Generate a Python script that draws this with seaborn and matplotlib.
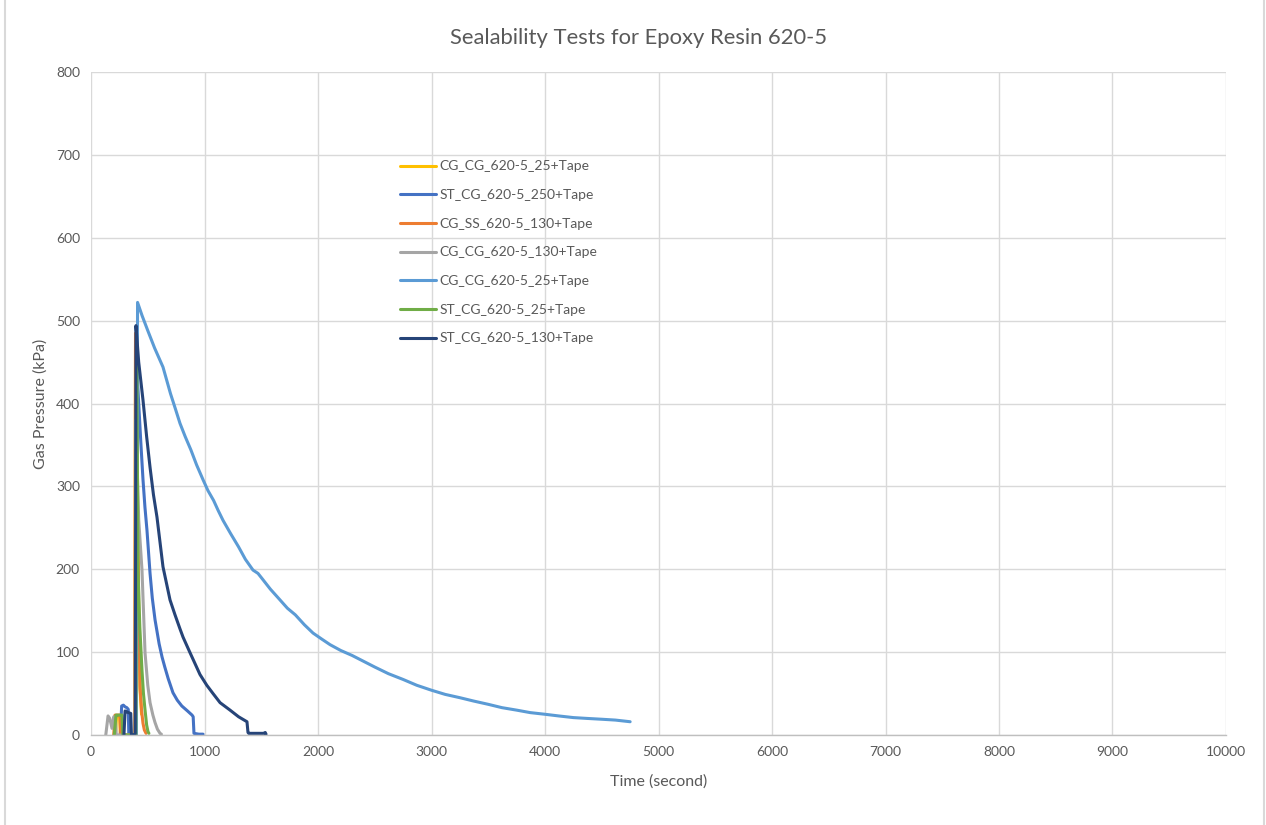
import matplotlib
matplotlib.use("Agg")
import matplotlib.pyplot as plt
import seaborn as sns
import pandas as pd

# ---- data ----
series_names = [
    "CG_CG_620-5_25+Tape",
    "ST_CG_620-5_250+Tape",
    "CG_SS_620-5_130+Tape",
    "CG_CG_620-5_130+Tape",
    "CG_CG_620-5_25+Tape",
    "ST_CG_620-5_25+Tape",
    "ST_CG_620-5_130+Tape",
]
series_colors = ["#FFC000", "#4472C4", "#ED7D31", "#A5A5A5", "#5B9BD5", "#70AD47", "#264478"]

yellow_t = [215, 225, 240, 252, 258, 385, 392, 400, 410, 420, 432, 445]
yellow_p = [0, 23, 23, 23, 0, 0, 470, 390, 270, 140, 55, 25]

medblue_t = [258, 270, 285, 300, 315, 328, 333, 398, 405, 420, 440, 458, 475, 493, 520, 540, 564, 600, 626, 650,
             680, 722, 760, 800, 850, 890, 900, 907, 950, 987]
medblue_p = [0, 35, 36, 34, 33, 31, 0, 0, 440, 400, 350, 308, 275, 247, 195, 165, 139, 110, 94, 82,
             68, 51, 42, 35, 29, 24, 22, 2, 1, 1]

orange_t = [200, 211, 225, 240, 255, 262, 385, 392, 400, 410, 420, 432, 445, 458, 470, 485]
orange_p = [0, 24, 24, 24, 24, 0, 0, 485, 400, 280, 150, 58, 30, 14, 6, 2]

gray_t = [130, 150, 165, 185, 200, 215, 222, 388, 394, 405, 420, 449, 476, 500, 520, 545, 564, 585, 608, 620]
gray_p = [0, 23, 20, 8, 22, 20, 0, 0, 380, 330, 260, 199, 99, 60, 39, 24, 15, 7, 2, 1]

lightblue_t = [400, 410, 450, 500, 560, 634, 700, 740, 784, 830, 880, 930, 987, 1030, 1080, 1120, 1163, 1230,
               1300, 1360, 1427, 1471, 1500, 1580, 1665, 1730, 1800, 1880, 1956, 2030,
               2106, 2200, 2300, 2400, 2500, 2620, 2750, 2870, 3000, 3120, 3250, 3370, 3500, 3620, 3750,
               3870, 4000, 4120, 4250, 4370, 4500, 4620, 4750]
lightblue_p = [0, 522, 506, 488, 467, 444, 412, 395, 376, 360, 344, 326, 308, 295, 283, 271, 259, 243,
               227, 212, 199, 195, 190, 176, 163, 153, 145, 133, 123, 116,
               109, 102, 96, 89, 82, 74, 67, 60, 54, 49, 45, 41, 37, 33, 30,
               27, 25, 23, 21, 20, 19, 18, 16]

green_t = [205, 220, 235, 255, 273, 280, 395, 402, 410, 414, 430, 449, 462, 476, 490, 502, 510]
green_p = [0, 24, 24, 24, 24, 0, 0, 450, 300, 199, 130, 78, 50, 30, 12, 4, 2]

navy_t = [290, 300, 315, 330, 350, 356, 385, 390, 396, 420, 458, 490, 520, 550, 581, 634, 696, 740, 784, 811, 870, 920, 960,
          1020, 1075, 1137, 1225, 1300, 1374, 1383, 1390, 1450, 1520, 1535, 1542]
navy_p = [0, 29, 28, 27, 26, 0, 0, 2, 494, 450, 404, 360, 323, 290, 263, 203, 163, 145, 128, 118, 100, 85, 73,
          60, 50, 39, 30, 22, 16, 3, 2, 2, 2, 3, 1]

series_t = [yellow_t, medblue_t, orange_t, gray_t, lightblue_t, green_t, navy_t]
series_p = [yellow_p, medblue_p, orange_p, gray_p, lightblue_p, green_p, navy_p]

x_ticks = list(range(0, 10001, 1000))
y_ticks = list(range(0, 801, 100))

title = "Sealability Tests for Epoxy Resin 620-5"
x_label = "Time (second)"
y_label = "Gas Pressure (kPa)"

# ---- style ----
sns.set_theme(style="white")
plt.rcParams["font.family"] = ["Lato", "DejaVu Sans"]
text_color = "#595959"

fig = plt.figure(figsize=(12.66, 8.25), dpi=100)
ax = fig.add_axes([0.0719, 0.1091, 0.8965, 0.8036])

for name, col, t, p in zip(series_names, series_colors, series_t, series_p):
    df = pd.DataFrame({"t": t, "p": p})
    sns.lineplot(data=df, x="t", y="p", ax=ax, color=col, linewidth=2.2,
                 sort=False, estimator=None, label=name)

ax.set_xlim(0, 10000)
ax.set_ylim(0, 800)
ax.set_xticks(x_ticks)
ax.set_yticks(y_ticks)
ax.grid(True, color="#D9D9D9", linewidth=1)
ax.set_axisbelow(True)
for s in ["top", "right", "left"]:
    ax.spines[s].set_visible(False)
ax.spines["bottom"].set_color("#BFBFBF")
ax.spines["bottom"].set_linewidth(1)
ax.tick_params(axis="both", colors=text_color, labelsize=10, length=0, pad=8)

ax.set_xlabel(x_label, color=text_color, fontsize=11.5, labelpad=12)
ax.set_ylabel(y_label, color=text_color, fontsize=11.5, labelpad=6)
fig.text(0.5047, 0.954, title, ha="center", va="center", color=text_color, fontsize=15.8)

leg = ax.legend(loc="upper left", bbox_to_anchor=(0.267, 0.875), frameon=False,
                fontsize=10, handlelength=2.6, handletextpad=0.25, labelspacing=1.2,
                borderaxespad=0)
for txt in leg.get_texts():
    txt.set_color(text_color)

# light border lines of the chart area
fig.add_artist(plt.Line2D([5 / 1266, 5 / 1266], [0, 1], color="#D9D9D9", linewidth=1.5, transform=fig.transFigure))
fig.add_artist(plt.Line2D([1264 / 1266, 1264 / 1266], [0, 1], color="#D9D9D9", linewidth=1.5, transform=fig.transFigure))

fig.savefig("out.png", dpi=100, facecolor="white")
